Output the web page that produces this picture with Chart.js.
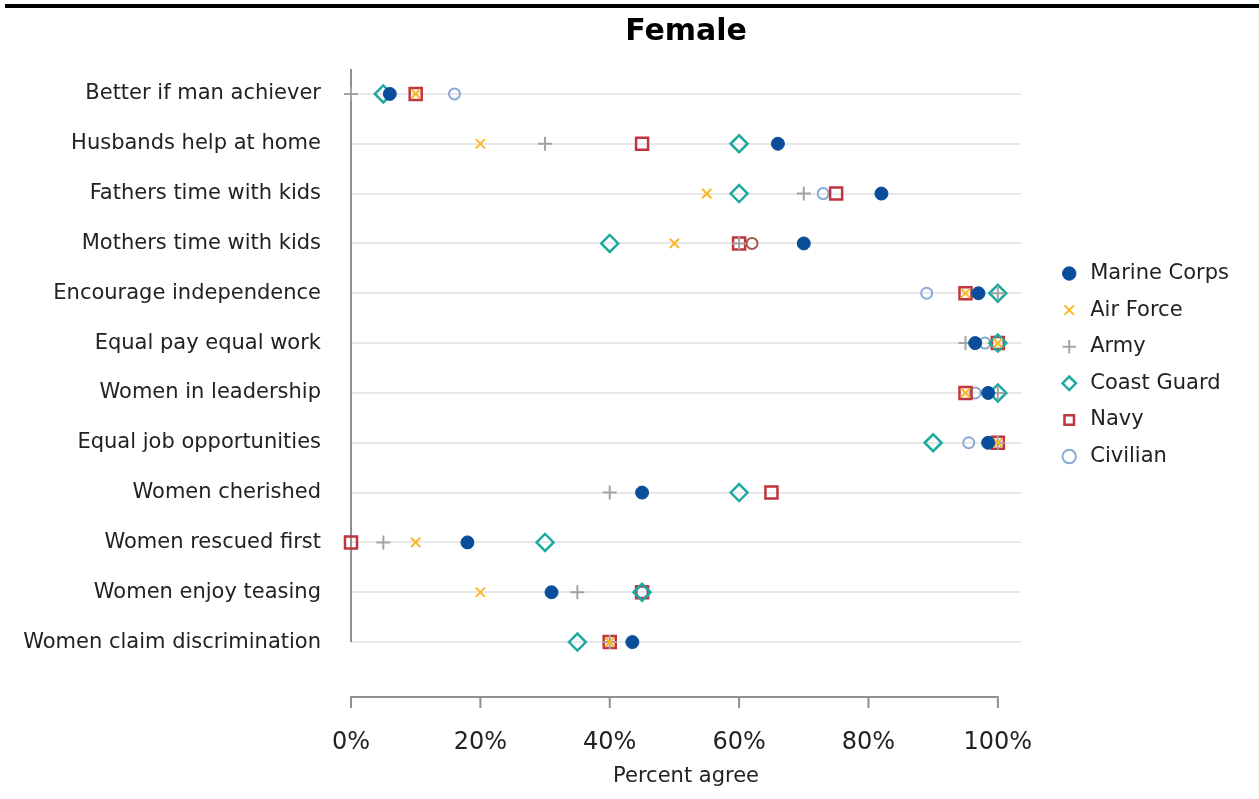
<!DOCTYPE html>
<html>
<head>
<meta charset="utf-8">
<script src="https://cdn.jsdelivr.net/npm/chart.js@4.4.1/dist/chart.umd.min.js"></script>
<style>
  html, body { margin: 0; padding: 0; background: #fff; }
  #wrap { position: relative; width: 1259px; height: 799px; }
  #topRule { position: absolute; left: 5px; right: 0; top: 4px; height: 4px; background: #000; }
</style>
</head>
<body>
<div id="wrap">
  <canvas id="chart" width="1259" height="799"></canvas>
  <div id="topRule"></div>
</div>
<script>
const categories = [
  "Better if man achiever",
  "Husbands help at home",
  "Fathers time with kids",
  "Mothers time with kids",
  "Encourage independence",
  "Equal pay equal work",
  "Women in leadership",
  "Equal job opportunities",
  "Women cherished",
  "Women rescued first",
  "Women enjoy teasing",
  "Women claim discrimination",
];

// percent agree, one value per category (null = not shown)
const marineCorps = [6, 66, 82, 70, 97, 96.5, 98.5, 98.5, 45, 18, 31, 43.5];
const airForce = [10, 20, 55, 50, 95, 100, 95, 100, null, 10, 20, 40];
const army = [0, 30, 70, 60, 100, 95, 100, 100, 40, 5, 35, 40];
const coastGuard = [5, 60, 60, 40, 100, 100, 100, 90, 60, 30, 45, 35];
const navy = [10, 45, 75, 60, 95, 100, 95, 100, 65, 0, 45, 40];
const civilian = [16, null, 73, 62, 89, 98, 96.5, 95.5, null, null, 45, null];

const xTicks = [0, 20, 40, 60, 80, 100];

const FONT = "DejaVu Sans";
const TEXT = "#222222";
const CIVILIAN = "#89a9d6";

Chart.defaults.font.family = FONT;
Chart.defaults.color = TEXT;

// y axis line stops at the last row, x axis sits detached below the plot
const axisLines = {
  id: "axisLines",
  beforeDatasetsDraw(chart) {
    const { ctx, chartArea, scales } = chart;
    const x = scales.x;
    const y = scales.y;
    ctx.save();
    ctx.strokeStyle = "#8f8f8f";
    ctx.lineWidth = 2;
    ctx.beginPath();
    ctx.moveTo(chartArea.left, chartArea.top);
    ctx.lineTo(chartArea.left, y.getPixelForValue(categories.length - 1));
    ctx.stroke();

    const base = chartArea.bottom + 30;
    ctx.beginPath();
    ctx.moveTo(x.getPixelForValue(xTicks[0]) - 1, base);
    ctx.lineTo(x.getPixelForValue(xTicks[xTicks.length - 1]) + 1, base);
    xTicks.forEach((v) => {
      const px = x.getPixelForValue(v);
      ctx.moveTo(px, base);
      ctx.lineTo(px, base + 11);
    });
    ctx.stroke();
    ctx.restore();
  },
};

// leave a gap between plot and legend
const legendNudge = {
  id: "legendNudge",
  afterLayout(chart) {
    const lg = chart.legend;
    const w = lg.width;
    lg.left = chart.chartArea.right + 22;
    lg.right = lg.left + w;
    lg.top -= 3;
    lg.bottom -= 3;
  },
};

function series(label, data, style) {
  return Object.assign(
    {
      label,
      data,
      showLine: false,
      clip: false,
      pointHoverRadius: 0,
    },
    style
  );
}

new Chart(document.getElementById("chart"), {
  type: "line",
  data: {
    labels: categories,
    datasets: [
      series("Marine Corps", marineCorps, {
        pointStyle: "circle",
        pointRadius: 6.5,
        pointBackgroundColor: "#0a4e9b",
        pointBorderColor: "#0a4e9b",
        pointBorderWidth: 1,
        borderColor: "#0a4e9b",
        backgroundColor: "#0a4e9b",
      }),
      series("Air Force", airForce, {
        pointStyle: "crossRot",
        pointRadius: 6.5,
        pointBorderColor: "#f9b824",
        pointBackgroundColor: "#f9b824",
        pointBorderWidth: 2,
        borderColor: "#f9b824",
        backgroundColor: "#f9b824",
      }),
      series("Army", army, {
        pointStyle: "cross",
        pointRadius: 7,
        pointBorderColor: "#a3a3a3",
        pointBackgroundColor: "#a3a3a3",
        pointBorderWidth: 2,
        borderColor: "#a3a3a3",
        backgroundColor: "#a3a3a3",
      }),
      series("Coast Guard", coastGuard, {
        pointStyle: "rectRot",
        pointRadius: 8.5,
        pointBorderColor: "#1eaaa0",
        pointBackgroundColor: "rgba(0,0,0,0)",
        pointBorderWidth: 2.5,
        borderColor: "#1eaaa0",
        backgroundColor: "rgba(0,0,0,0)",
      }),
      series("Navy", navy, {
        pointStyle: "rect",
        pointRadius: 8.5,
        pointBorderColor: "#c0343f",
        pointBackgroundColor: "rgba(0,0,0,0)",
        pointBorderWidth: 2.5,
        borderColor: "#c0343f",
        backgroundColor: "rgba(0,0,0,0)",
      }),
      series("Civilian", civilian, {
        pointStyle: "circle",
        pointRadius: 5.5,
        pointBorderColor: (c) => (c.dataIndex === 3 ? "#a45a55" : CIVILIAN),
        pointBackgroundColor: "rgba(0,0,0,0)",
        pointBorderWidth: 2,
        borderColor: CIVILIAN,
        backgroundColor: "rgba(0,0,0,0)",
      }),
    ],
  },
  options: {
    indexAxis: "y",
    responsive: false,
    animation: false,
    events: [],
    layout: { padding: { top: 0, right: 42, bottom: 0, left: 0 } },
    plugins: {
      title: {
        display: true,
        text: "Female",
        fullSize: false,
        color: "#000",
        font: { family: FONT, size: 30, weight: "bold" },
        padding: { top: 14, bottom: 19 },
      },
      legend: {
        position: "right",
        fullSize: false,
        labels: {
          usePointStyle: true,
          boxWidth: 21,
          boxHeight: 9.5,
          padding: 15.6,
          color: TEXT,
          font: { family: FONT, size: 21 },
        },
      },
      tooltip: { enabled: false },
    },
    scales: {
      x: {
        type: "linear",
        min: 0,
        max: 103.6,
        grid: { display: false, drawTicks: true, tickLength: 56, color: "rgba(0,0,0,0)" },
        border: { display: false },
        ticks: {
          stepSize: 20,
          includeBounds: false,
          padding: 5,
          color: TEXT,
          font: { family: FONT, size: 24 },
          callback: (v) => v + "%",
        },
        title: {
          display: true,
          text: "Percent agree",
          color: TEXT,
          font: { family: FONT, size: 21 },
          padding: { top: 2, bottom: 10 },
        },
      },
      y: {
        type: "category",
        offset: true,
        grid: { offset: false, color: "#e8e8e8", lineWidth: 2, drawTicks: false },
        border: { display: false },
        ticks: {
          padding: 30,
          color: TEXT,
          font: { family: FONT, size: 21 },
        },
        afterFit: (scale) => {
          scale.width = 351;
        },
      },
    },
  },
  plugins: [axisLines, legendNudge],
});
</script>
</body>
</html>
